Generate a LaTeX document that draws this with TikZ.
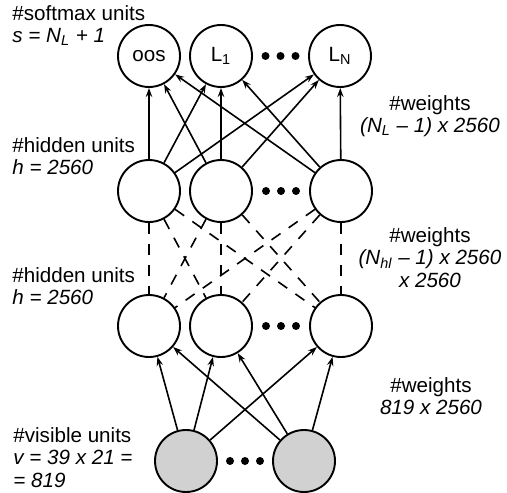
\documentclass[tikz,border=0pt]{standalone}
\usepackage{fontspec}
\setmainfont{Liberation Sans}
\usetikzlibrary{arrows.meta, positioning, calc}
\tikzstyle{unit} = [circle, draw, line width=0.95pt, minimum size=31pt, inner sep=0pt]
\tikzstyle{visible} = [unit, fill=black!18]
\tikzstyle{arrow} = [line width=0.8pt, -{Stealth[length=4.5pt,width=3.2pt]}]
\tikzstyle{weak} = [line width=0.8pt, dash pattern=on 5.5pt off 5pt]
\tikzstyle{leftlabel} = [anchor=north west, align=left, inner sep=0pt]
\tikzstyle{rightlabel} = [anchor=north, align=center, inner sep=0pt]
\tikzset{every node/.style={font=\fontsize{10.3}{11.25}\selectfont}}

\begin{document}
\begin{tikzpicture}[node distance=67.5pt]
    \useasboundingbox (0,0) rectangle (253.5pt,-246pt);

    % softmax layer
    \node (oos) [unit] at (74.5pt,-28pt) {oos};
    \node (l1) [unit, right of=oos, xshift=-31.5pt] {L\textsubscript{1}};
    \node (ln) [unit, right of=l1, xshift=-8pt] {L\textsubscript{N}};
    % hidden layers
    \node (h1a) [unit, below of=oos] {};
    \node (h1b) [unit, right of=h1a, xshift=-31.5pt] {};
    \node (h1c) [unit, right of=h1b, xshift=-7.5pt] {};
    \node (h2a) [unit, below of=h1a] {};
    \node (h2b) [unit, right of=h2a, xshift=-31.5pt] {};
    \node (h2c) [unit, right of=h2b, xshift=-7.5pt] {};
    % visible layer
    \node (v1) [visible, below of=h2a, xshift=18.5pt] {};
    \node (v2) [visible, right of=v1, xshift=-8.5pt] {};

    \foreach \a/\b in {l1/ln, h1b/h1c, h2b/h2c, v1/v2}
        \foreach \dx in {-7.5pt, 0pt, 7.5pt}
            \fill ($(\a)!0.5!(\b)$) ++(\dx,0) circle (2pt);

    \foreach \top in {oos, l1, ln}
        \foreach \bot in {h1a, h1b, h1c}
            \draw [arrow] (\bot) -- (\top);
    \foreach \top in {h1a, h1b, h1c}
        \foreach \bot in {h2a, h2b, h2c}
            \draw [weak] (\top) -- (\bot);
    \foreach \top in {h2a, h2b, h2c}
        \foreach \bot in {v1, v2}
            \draw [arrow] (\bot) -- (\top);

    % labels
    \node (lsoft) [leftlabel] at (6pt,-2.5pt) {\#softmax units\\ \textit{s = N\textsubscript{L} + 1}};
    \node (lhida) [leftlabel] at (6pt,-68.5pt) {\#hidden units\\ \textit{h = 2560}};
    \node (lhidb) [leftlabel] at (6pt,-133.5pt) {\#hidden units\\ \textit{h = 2560}};
    \node (lvis) [leftlabel] at (6.5pt,-213.5pt) {\#visible units\\ \textit{v = 39 x 21 =}\\ \textit{= 819}};
    \node (wtop) [rightlabel] at (215pt,-47.5pt) {\#weights\\ \textit{(N\textsubscript{L} – 1) x 2560}};
    \node (wmid) [rightlabel] at (215pt,-113.5pt) {\#weights\\ \textit{(N\textsubscript{hl} – 1) x 2560}\\ \textit{x 2560}};
    \node (wbot) [rightlabel] at (215.5pt,-188.5pt) {\#weights\\ \textit{819 x 2560}};
\end{tikzpicture}
\end{document}
